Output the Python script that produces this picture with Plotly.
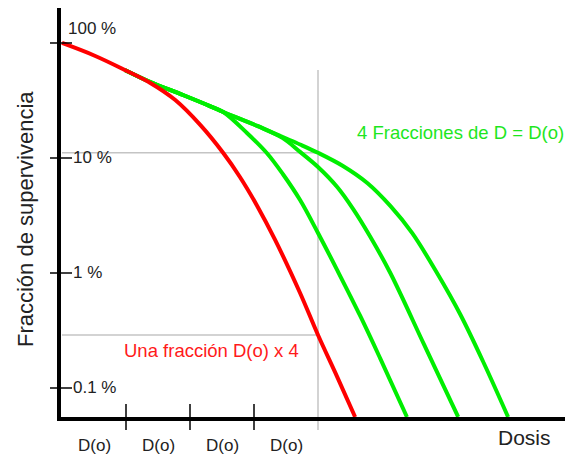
import numpy as np
import plotly.graph_objects as go

# Dosis en unidades de D(o); supervivencia en %
dosis_una = [0, 0.52, 0.98, 1.38, 1.77, 2.16, 2.52, 2.78, 3.05, 3.33, 3.72, 4.0, 4.3, 4.58]
superv_una = [100, 77.1, 58.3, 44.9, 31.9, 19.4, 11.05, 6.84, 3.83, 1.94, 0.67, 0.289, 0.125, 0.056]

# tramo comun de las curvas fraccionadas (tras la 1a fraccion)
tronco_x = [0.98, 1.38, 1.89, 2.31]
tronco_y = [58.3, 45.8, 35.3, 28.3]

frac2_x = [2.52, 2.89, 3.2, 3.45, 3.72, 4.0, 4.3, 4.66, 4.97, 5.39]
frac2_y = [25.1, 16.5, 11.05, 7.26, 4.31, 2.23, 1.06, 0.423, 0.182, 0.056]

frac3_x = [2.52, 3.05, 3.45, 3.72, 4.0, 4.3, 4.55, 4.81, 5.13, 5.66, 6.19]
frac3_y = [25.1, 19.0, 14.9, 11.3, 8.36, 5.6, 3.6, 2.1, 1.0, 0.237, 0.056]

frac4_x = [2.52, 3.05, 3.45, 3.72, 4.0, 4.39, 4.77, 5.13, 5.47, 5.86, 6.22, 6.59, 6.97]
frac4_y = [25.1, 19.0, 15.2, 13.1, 11.1, 8.52, 6.06, 3.83, 2.23, 1.0, 0.44, 0.165, 0.056]

y_ticks = [100, 10, 1, 0.1]
y_labels = ["100 %", "10 %", "1 %", "0.1 %"]
x_ticks = [1, 2, 3]
x_labels = ["D(o)", "D(o)", "D(o)", "D(o)"]
dosis_ref = 4.0

ROJO = "#ff0000"
VERDE = "#00ee00"
TXT = "#222222"
FONT = "Liberation Sans, Arial, sans-serif"

fig = go.Figure()

for bx, by in [(frac2_x, frac2_y), (frac3_x, frac3_y), (frac4_x, frac4_y)]:
    fig.add_trace(go.Scatter(
        x=tronco_x + bx, y=tronco_y + by, mode="lines",
        line=dict(color=VERDE, width=4, shape="spline", smoothing=1.0),
        hoverinfo="skip"
    ))

fig.add_trace(go.Scatter(
    x=dosis_una, y=superv_una, mode="lines",
    line=dict(color=ROJO, width=4, shape="spline", smoothing=1.0),
    hoverinfo="skip"
))

shapes = []
gris = dict(color="#c4c4c4", width=1.5)
# linea vertical en 4 D(o)
shapes.append(dict(type="line", xref="x", yref="paper", x0=dosis_ref, x1=dosis_ref,
                   ysizemode="pixel", yanchor=0, y0=-13, y1=347, line=gris, layer="below"))
# lineas horizontales hasta las curvas en 4 D(o)
val_frac = frac4_y[frac4_x.index(dosis_ref)]
val_una = superv_una[dosis_una.index(dosis_ref)]
for v in [val_frac, val_una]:
    shapes.append(dict(type="line", xref="x", yref="y", x0=0, x1=dosis_ref, y0=v, y1=v,
                       line=gris, layer="below"))
# marcas cruzando los ejes
for d in x_ticks:
    shapes.append(dict(type="line", xref="x", yref="paper", x0=d, x1=d,
                       ysizemode="pixel", yanchor=0, y0=-13, y1=13,
                       line=dict(color="black", width=1.5)))
for v in y_ticks:
    shapes.append(dict(type="line", xref="paper", yref="y", y0=v, y1=v,
                       xsizemode="pixel", xanchor=0, x0=-11, x1=11,
                       line=dict(color="black", width=1.5)))

ann = []
for v, lbl in zip(y_ticks, y_labels):
    big = v == 100
    ann.append(dict(text=lbl, xref="paper", x=0, xshift=5 if big else 10, xanchor="left",
                    yref="y", y=np.log10(v), yshift=14 if big else 1, yanchor="middle",
                    showarrow=False, font=dict(size=17, color=TXT, family=FONT)))
for i, lbl in enumerate(x_labels):
    ann.append(dict(text=lbl, xref="x", x=i + 0.5, xanchor="center",
                    yref="paper", y=0, yshift=-28, yanchor="middle",
                    showarrow=False, font=dict(size=17, color=TXT, family=FONT)))
ann.append(dict(text="Dosis", xref="paper", x=0.908, xanchor="center",
                yref="paper", y=0, yshift=-20, yanchor="middle",
                showarrow=False, font=dict(size=21, color=TXT, family=FONT)))
ann.append(dict(text="Fracción de supervivencia", xref="paper", x=-0.0705, xanchor="center",
                yref="paper", y=0.484, yanchor="middle", textangle=-90,
                showarrow=False, font=dict(size=22, color=TXT, family=FONT)))
ann.append(dict(text="Una fracción D(o) x 4", xref="x", x=0.94, xanchor="left",
                yref="y", y=np.log10(0.214), yanchor="middle",
                showarrow=False, font=dict(size=18.5, color="#ff1a1a", family=FONT)))
ann.append(dict(text="4 Fracciones de D = D(o)", xref="x", x=4.58, xanchor="left",
                yref="y", y=np.log10(16.8), yanchor="middle",
                showarrow=False, font=dict(size=18.5, color="#1ee61e", family=FONT)))

# la pagina deja 8 px de margen en el body: la figura se reduce en esa medida
fig.update_layout(
    width=565, height=449,
    margin=dict(l=53, r=1, t=0, b=40),
    paper_bgcolor="white", plot_bgcolor="white",
    showlegend=False,
    shapes=shapes, annotations=ann,
    xaxis=dict(range=[-1 / 64, 510 / 64], showgrid=False, zeroline=False,
               showticklabels=False, ticks="", showline=True, linewidth=4, linecolor="black"),
    yaxis=dict(type="log", range=[-1.2522, 2.3043], showgrid=False, zeroline=False,
               showticklabels=False, ticks="", showline=True, linewidth=4, linecolor="black"),
)

fig.write_html("out.html")
